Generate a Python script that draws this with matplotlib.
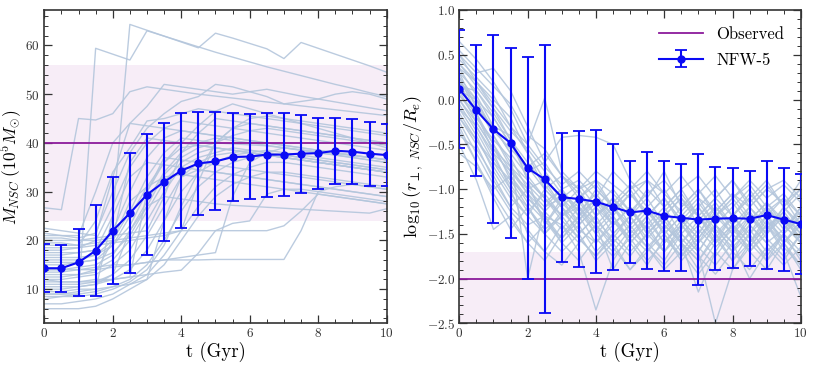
import numpy as np
import matplotlib
matplotlib.use('Agg')
import matplotlib.pyplot as plt
from matplotlib.ticker import FormatStrFormatter

plt.rcParams['font.family'] = 'serif'
plt.rcParams['font.serif'] = ['cmr10', 'DejaVu Serif']
plt.rcParams['mathtext.fontset'] = 'cm'
plt.rcParams['axes.formatter.use_mathtext'] = True
plt.rcParams['axes.unicode_minus'] = True

# time grid (Gyr)
t = [0, 0.5, 1, 1.5, 2, 2.5, 3, 3.5, 4, 4.5, 5, 5.5, 6, 6.5, 7, 7.5, 8, 8.5, 9, 9.5, 10]

# NFW-5 mean and spread, NSC mass (1e5 Msun)
mass_mean = [14.3, 14.3, 15.5, 17.9, 22.0, 25.6, 29.4, 32.0, 34.3, 35.8, 36.2,
             37.1, 37.2, 37.6, 37.6, 37.8, 37.9, 38.4, 38.2, 37.8, 37.5]
mass_std = [4.9, 4.8, 6.85, 9.35, 11.0, 12.35, 12.4, 12.1, 11.8, 10.6, 10.05,
            9.05, 8.75, 8.6, 8.45, 8.0, 7.25, 6.75, 6.7, 6.55, 6.35]

# NFW-5 mean and spread, log10 projected distance
dist_mean = [0.12, -0.12, -0.33, -0.485, -0.765, -0.89, -1.09, -1.11, -1.14, -1.20, -1.26,
             -1.24, -1.30, -1.32, -1.34, -1.33, -1.325, -1.33, -1.29, -1.34, -1.39]
dist_std = [0.66, 0.73, 1.05, 1.06, 1.24, 1.5, 0.72, 0.76, 0.80, 0.70, 0.57,
            0.655, 0.62, 0.60, 0.73, 0.575, 0.56, 0.53, 0.605, 0.58, 0.56]

# observed values
obs_mass = 40
obs_mass_err = 16
obs_dist = -2.0
obs_dist_top = -1.7

# individual runs, NSC mass
mass_runs = [
    [9.0, 9.0, 9.5, 10.0, 25.0, 64.3, 63.1, 61.9, 60.7, 59.5, 62.5, 61.5, 60.4, 59.3, 57.3, 60.6, 59.4, 58.2, 57.0, 55.8, 54.5],
    [8.0, 8.5, 9.0, 59.4, 58.2, 57.0, 63.0, 61.9, 60.8, 59.7, 58.6, 57.6, 56.6, 55.6, 54.7, 53.8, 52.9, 52.0, 51.2, 50.3, 49.5],
    [26.7, 26.3, 45.0, 44.7, 46.0, 50.5, 51.5, 51.0, 50.5, 50.0, 49.6, 49.2, 48.8, 48.4, 48.0, 47.6, 47.2, 46.8, 46.4, 46.0, 45.6],
    [22.5, 22.0, 21.5, 21.0, 33.0, 44.0, 47.5, 52.0, 51.5, 51.0, 50.5, 50.0, 50.5, 51.0, 50.3, 49.6, 49.0, 48.4, 47.8, 47.2, 46.6],
    [21.0, 21.0, 20.5, 21.5, 30.0, 38.0, 43.0, 46.0, 48.5, 49.5, 52.0, 51.5, 50.5, 49.5, 48.0, 48.5, 49.0, 50.0, 50.5, 50.0, 49.0],
    [19.5, 19.5, 19.0, 24.0, 34.0, 39.0, 44.5, 45.0, 46.0, 47.0, 46.5, 46.0, 45.5, 45.0, 44.5, 44.0, 43.5, 43.0, 42.5, 42.0, 41.5],
    [18.0, 18.0, 18.5, 20.0, 27.0, 35.0, 40.0, 43.0, 44.5, 44.0, 43.5, 43.0, 42.5, 42.0, 41.5, 41.0, 40.5, 40.0, 39.5, 39.0, 38.5],
    [17.0, 17.0, 17.5, 18.0, 22.0, 30.0, 37.0, 41.0, 42.5, 42.0, 41.5, 41.0, 40.5, 40.0, 39.5, 39.0, 38.5, 38.0, 37.5, 37.0, 36.5],
    [16.0, 16.0, 16.0, 17.0, 20.0, 26.0, 33.0, 38.0, 41.0, 40.5, 40.0, 39.8, 39.6, 39.4, 39.0, 38.6, 38.2, 37.8, 37.4, 37.0, 36.6],
    [15.0, 15.0, 15.5, 16.0, 19.0, 25.0, 31.0, 36.0, 39.0, 39.5, 39.0, 38.5, 38.0, 37.5, 37.0, 36.5, 36.0, 35.5, 35.0, 34.5, 34.0],
    [14.0, 14.0, 14.5, 15.0, 17.0, 22.0, 28.0, 34.0, 38.0, 40.0, 41.0, 40.5, 40.0, 39.5, 39.0, 38.5, 38.0, 37.5, 37.0, 36.5, 36.0],
    [13.0, 13.0, 13.0, 14.0, 16.0, 20.0, 26.0, 32.0, 36.0, 38.0, 39.0, 38.5, 38.0, 37.5, 37.0, 36.5, 36.0, 35.5, 35.0, 34.5, 34.0],
    [12.0, 12.0, 12.5, 13.0, 15.0, 18.0, 24.0, 30.0, 35.0, 37.0, 38.0, 39.0, 38.5, 38.0, 37.5, 37.0, 36.5, 36.0, 35.5, 35.0, 34.5],
    [11.0, 11.0, 11.0, 11.5, 13.0, 16.0, 21.0, 27.0, 33.0, 36.0, 37.5, 38.0, 38.5, 38.0, 37.5, 37.0, 36.5, 36.0, 35.5, 35.0, 34.5],
    [10.0, 10.0, 10.5, 11.0, 12.0, 14.0, 18.0, 24.0, 30.0, 34.0, 36.0, 37.5, 38.0, 38.5, 38.0, 37.5, 37.0, 36.5, 36.0, 35.5, 35.0],
    [9.0, 9.0, 9.0, 9.5, 10.5, 12.0, 15.0, 20.0, 26.0, 31.0, 34.0, 36.0, 37.0, 37.5, 37.0, 36.5, 36.0, 35.5, 35.0, 34.5, 34.0],
    [7.0, 7.0, 7.5, 8.0, 9.0, 11.0, 13.0, 17.0, 22.0, 27.0, 31.0, 33.5, 35.0, 36.0, 36.0, 35.5, 35.0, 34.5, 34.0, 33.5, 33.0],
    [6.0, 6.0, 6.0, 6.5, 8.0, 10.0, 12.0, 15.0, 20.0, 25.0, 29.0, 31.5, 33.0, 34.0, 34.0, 33.5, 33.0, 32.5, 32.0, 31.5, 31.0],
    [20.0, 20.0, 20.0, 20.5, 21.0, 21.5, 22.0, 29.0, 38.0, 42.0, 45.0, 44.5, 44.0, 43.5, 43.0, 42.5, 42.0, 41.5, 41.0, 40.5, 40.0],
    [18.5, 18.5, 18.5, 19.0, 19.5, 20.0, 20.5, 21.0, 22.0, 32.0, 40.0, 43.0, 45.0, 45.5, 45.0, 44.5, 44.0, 43.5, 43.0, 42.5, 42.0],
    [13.5, 13.5, 14.0, 14.0, 14.5, 15.0, 15.5, 16.0, 16.5, 17.0, 17.5, 29.0, 36.0, 38.0, 39.0, 38.5, 38.0, 37.5, 37.0, 36.5, 36.0],
    [14.0, 14.0, 14.0, 14.5, 15.0, 15.0, 15.5, 16.0, 16.0, 16.0, 16.1, 16.1, 16.1, 16.1, 16.1, 22.0, 30.0, 31.0, 31.5, 31.0, 30.5],
    [19.0, 19.0, 19.0, 19.5, 20.0, 20.5, 21.0, 21.5, 22.0, 22.0, 22.0, 22.0, 22.0, 22.0, 23.0, 26.0, 29.5, 29.0, 28.5, 28.0, 27.5],
    [11.5, 11.5, 11.5, 12.0, 12.0, 12.5, 13.0, 13.5, 13.9, 17.4, 22.0, 23.5, 24.0, 29.5, 30.5, 30.5, 30.0, 29.5, 29.0, 28.5, 28.0],
    [21.5, 21.0, 21.0, 30.0, 40.0, 44.0, 43.5, 43.0, 42.5, 42.0, 41.5, 41.0, 40.5, 40.0, 39.5, 39.0, 38.5, 38.0, 37.5, 37.0, 36.5],
    [17.5, 17.5, 17.5, 18.0, 25.0, 33.0, 36.0, 35.5, 35.0, 34.5, 34.0, 33.5, 33.0, 32.5, 32.0, 31.5, 31.0, 30.5, 30.0, 29.5, 29.0],
    [12.5, 12.5, 13.0, 13.5, 20.0, 28.0, 31.0, 33.0, 33.5, 33.0, 32.5, 32.0, 31.5, 31.0, 30.5, 30.0, 29.5, 29.0, 28.5, 28.0, 27.5],
    [10.5, 10.5, 10.5, 11.0, 13.0, 22.0, 27.0, 29.0, 28.5, 28.0, 27.5, 27.2, 27.0, 26.8, 26.6, 26.4, 26.2, 26.0, 25.8, 25.6, 26.5],
    [16.5, 16.5, 16.5, 17.0, 19.0, 23.0, 30.0, 36.0, 40.0, 43.5, 46.5, 48.0, 47.0, 46.0, 45.0, 44.0, 43.0, 42.0, 41.0, 40.0, 39.0],
    [8.5, 8.5, 8.5, 9.0, 10.0, 11.5, 14.0, 19.0, 27.0, 34.0, 40.0, 43.0, 44.0, 43.5, 43.0, 42.5, 42.0, 41.5, 41.0, 40.5, 40.0],
    [15.5, 15.5, 15.5, 16.0, 17.5, 21.0, 27.0, 33.5, 37.0, 39.0, 40.0, 41.5, 42.5, 43.0, 42.5, 42.0, 41.5, 41.0, 40.5, 40.0, 39.5],
    [20.5, 20.5, 20.0, 20.0, 20.5, 36.0, 41.0, 40.5, 40.0, 39.5, 39.0, 38.5, 38.0, 37.5, 37.0, 36.5, 36.0, 35.5, 35.0, 34.5, 34.0],
    [12.0, 11.5, 11.5, 11.5, 12.0, 12.5, 30.0, 37.0, 36.5, 36.0, 35.5, 35.0, 34.5, 34.0, 33.5, 33.0, 32.5, 32.0, 31.5, 31.0, 30.5],
    [9.5, 9.5, 10.0, 10.0, 10.5, 11.0, 12.0, 24.0, 33.0, 34.5, 34.0, 33.5, 33.0, 32.5, 32.0, 31.5, 31.0, 30.5, 30.0, 29.5, 29.0],
]

# individual runs, log10 projected distance
dist_runs = [
    [0.65, 0.45, 0.2, -0.1, -0.5, 0.02, -0.8, -1.0, -0.9, -1.2, -1.0, -1.3, -1.1, -1.4, -1.2, -1.0, -1.3, -1.1, -0.9, -1.2, -1.0],
    [0.5, 0.3, 0.35, 0.1, -0.3, -0.7, -0.42, -0.4, -0.42, -0.5, -0.9, -1.1, -0.8, -1.2, -1.0, -1.3, -1.1, -0.95, -1.2, -1.05, -1.3],
    [0.4, 0.2, 0.0, -0.2, -0.6, -1.0, -1.2, -1.5, -1.3, -1.6, -1.4, -1.2, -1.5, -1.3, -1.7, -1.4, -1.6, -1.3, -1.5, -1.2, -1.4],
    [0.3, -0.1, -0.3, -0.6, -2.0, -1.2, -1.0, -1.3, -1.1, -1.4, -1.2, -1.5, -1.3, -1.1, -1.4, -1.6, -1.3, -1.5, -1.2, -1.4, -1.6],
    [0.2, -0.2, -0.5, -0.9, -1.1, -1.3, -1.4, -1.7, -2.35, -1.8, -1.5, -1.7, -1.4, -1.6, -1.8, -1.5, -1.7, -1.4, -1.6, -1.8, -1.5],
    [0.1, 0.0, -0.4, -0.7, -0.9, -1.1, -1.3, -1.2, -1.5, -1.3, -1.6, -1.4, -1.2, -1.5, -1.7, -2.5, -1.9, -1.6, -1.8, -1.5, -1.7],
    [0.0, -0.3, -0.6, -0.8, -1.0, -1.2, -1.1, -1.4, -1.2, -1.5, -1.3, -1.1, -1.4, -1.6, -2.15, -1.7, -1.4, -1.6, -1.3, -1.5, -1.2],
    [-0.1, -0.4, -0.8, -1.1, -1.3, -1.0, -1.2, -1.5, -1.3, -1.1, -1.4, -1.2, -1.5, -1.3, -1.1, -1.4, -1.2, -1.0, -1.3, -1.1, -1.4],
    [-0.2, -0.5, -0.9, -1.2, -1.4, -1.3, -1.6, -1.4, -1.7, -1.5, -1.3, -1.6, -1.8, -1.5, -1.7, -1.4, -1.6, -2.0, -1.7, -1.5, -1.8],
    [0.25, -0.15, -0.6, -1.0, -1.2, -1.5, -1.3, -1.1, -1.4, -1.6, -1.4, -1.2, -1.0, -1.3, -1.5, -1.2, -1.4, -1.6, -1.4, -1.7, -2.2],
    [0.15, 0.1, -0.2, -0.5, -0.8, -0.7, -1.0, -0.9, -1.1, -0.8, -1.0, -0.9, -1.2, -1.0, -0.85, -1.1, -0.9, -1.15, -0.95, -1.2, -0.9],
    [0.35, 0.05, -0.3, -0.4, -0.9, -1.4, -1.1, -1.3, -1.0, -1.2, -1.5, -1.3, -1.6, -1.4, -1.2, -1.5, -1.8, -1.5, -1.3, -1.6, -1.4],
    [-0.3, -0.7, -1.1, -1.45, -1.2, -1.5, -1.7, -1.5, -1.8, -1.6, -1.9, -1.7, -1.5, -1.8, -1.6, -1.4, -1.7, -1.5, -1.8, -1.6, -1.9],
    [-0.5, -0.9, -1.45, -1.3, -1.6, -1.8, -1.5, -1.3, -1.6, -1.4, -1.2, -1.5, -1.3, -1.6, -1.9, -1.6, -1.4, -1.7, -1.5, -1.3, -1.6],
    [0.05, -0.2, -0.45, -0.65, -1.0, -0.9, -1.2, -1.0, -1.3, -1.1, -1.3, -1.0, -1.2, -1.0, -1.3, -1.1, -0.9, -1.2, -1.0, -0.9, -1.1],
    [0.45, 0.25, 0.05, -0.3, -0.6, -0.9, -1.1, -0.95, -1.2, -1.4, -1.2, -1.5, -1.7, -1.4, -1.6, -1.3, -1.5, -1.2, -1.4, -1.3, -1.5],
    [-0.05, -0.35, -0.7, -1.0, -1.5, -1.7, -1.4, -1.6, -1.4, -1.9, -1.6, -1.4, -1.7, -1.5, -1.3, -1.6, -1.4, -1.7, -1.9, -1.6, -1.4],
    [0.2, 0.0, -0.35, -0.55, -0.75, -1.0, -0.85, -1.1, -0.9, -1.05, -1.25, -1.05, -0.9, -1.15, -1.3, -1.1, -1.3, -1.05, -1.25, -1.1, -1.3],
    [-0.15, -0.45, -0.75, -1.05, -1.3, -1.5, -1.25, -1.45, -1.6, -1.35, -1.55, -1.8, -1.6, -1.35, -1.55, -1.75, -1.5, -1.3, -1.55, -1.75, -1.5],
    [0.1, -0.25, -0.55, -0.85, -1.15, -1.35, -1.55, -1.3, -1.1, -1.35, -1.6, -1.85, -1.55, -1.75, -1.5, -1.25, -1.5, -1.7, -1.45, -1.2, -1.45],
    [0.3, 0.1, -0.15, -0.45, -0.7, -0.95, -1.2, -1.4, -1.2, -1.0, -1.25, -1.45, -1.25, -1.05, -1.3, -1.55, -1.3, -1.1, -1.35, -1.6, -1.35],
    [-0.4, -0.55, -0.85, -1.2, -1.0, -1.25, -1.45, -1.2, -1.4, -1.65, -1.9, -1.65, -1.45, -1.7, -1.95, -1.7, -1.9, -1.65, -1.4, -1.65, -1.85],
    [0.55, 0.35, 0.15, -0.05, -0.4, -0.55, -0.85, -1.0, -0.8, -0.95, -1.1, -0.9, -1.05, -0.85, -1.1, -1.25, -1.05, -1.2, -1.0, -1.15, -1.0],
    [0.0, -0.25, -0.55, -0.75, -0.95, -1.15, -1.0, -1.25, -1.5, -1.7, -1.45, -1.25, -1.5, -1.75, -1.55, -1.3, -1.15, -1.4, -1.2, -1.45, -1.25],
    [-0.25, -0.6, -0.95, -1.25, -1.45, -1.7, -1.85, -1.6, -1.4, -1.2, -1.45, -1.65, -1.9, -1.7, -1.45, -1.65, -1.45, -1.25, -1.5, -1.3, -1.55],
    [0.4, 0.15, -0.1, -0.35, -0.55, -0.8, -1.05, -1.25, -1.05, -1.3, -1.55, -1.3, -1.1, -1.35, -1.15, -1.4, -1.6, -1.35, -1.15, -1.4, -1.6],
    [0.1, -0.1, -0.3, -0.6, -0.85, -1.1, -1.35, -1.55, -1.75, -1.5, -1.7, -1.5, -1.3, -1.55, -1.75, -1.95, -1.7, -1.9, -1.65, -1.85, -1.65],
    [-0.35, -0.7, -1.05, -1.35, -1.6, -1.4, -1.15, -1.35, -1.1, -1.3, -1.05, -1.25, -1.45, -1.2, -1.0, -1.25, -1.05, -1.3, -1.5, -1.25, -1.05],
    [0.25, 0.0, -0.2, -0.5, -0.75, -0.6, -0.85, -1.05, -1.3, -1.15, -0.95, -1.2, -1.4, -1.6, -1.35, -1.15, -1.4, -1.2, -1.45, -1.25, -1.5],
    [-0.1, -0.3, -0.65, -0.95, -1.25, -1.05, -1.3, -1.1, -0.95, -1.2, -1.4, -1.65, -1.85, -1.6, -1.8, -1.55, -1.8, -1.6, -1.35, -1.55, -1.75],
    [0.2, -0.05, -0.4, -0.75, -1.05, -1.35, -1.6, -1.8, -1.55, -1.75, -1.55, -1.35, -1.6, -1.4, -1.65, -1.85, -1.6, -1.4, -1.6, -1.45, -1.2],
    [0.35, 0.2, -0.05, -0.3, -0.5, -0.75, -0.95, -0.8, -1.0, -1.2, -1.0, -0.8, -1.05, -1.25, -1.05, -0.85, -1.1, -0.9, -1.1, -0.95, -1.15],
    [-0.6, -0.75, -1.0, -0.85, -1.1, -1.3, -1.55, -1.35, -1.15, -1.4, -1.2, -1.45, -1.7, -1.45, -1.2, -1.45, -1.65, -1.45, -1.7, -1.5, -1.3],
    [0.05, -0.15, -0.5, -0.8, -1.05, -1.25, -1.05, -1.2, -1.45, -1.25, -1.05, -1.3, -1.1, -1.35, -1.55, -1.3, -1.1, -1.35, -1.15, -1.35, -1.55],
    [0.5, 0.2, -0.1, -0.45, -0.9, -1.1, -1.3, -1.15, -1.35, -1.55, -1.75, -1.5, -1.3, -1.1, -1.3, -1.5, -1.3, -1.55, -1.75, -1.5, -1.3],
    [-0.2, -0.45, -0.7, -0.9, -1.2, -1.45, -1.3, -1.55, -1.75, -1.55, -1.3, -1.55, -1.35, -1.6, -1.4, -1.2, -1.45, -1.65, -1.4, -1.6, -1.85],
]

run_color = '#b4c6dc'
obs_color = '#8b1a9b'
band_color = '#f7edf7'
mean_color = '#0a0af5'

fig = plt.figure(figsize=(8.14, 3.67), dpi=100)
ax1 = fig.add_axes([0.0544, 0.119, 0.4206, 0.853])
ax2 = fig.add_axes([0.5643, 0.119, 0.4195, 0.853])


def style_axis(ax, ymajor, yminor):
    ax.set_xlim(0, 10)
    ax.set_xticks(np.arange(0, 10.1, 2))
    ax.set_xticks(np.arange(0, 10.1, 0.5), minor=True)
    ax.set_yticks(ymajor)
    ax.set_yticks(yminor, minor=True)
    ax.tick_params(which='both', direction='in', top=True, right=True, labelsize=9.5,
                   colors='#333333', pad=3)
    ax.tick_params(which='major', length=6, width=0.9)
    ax.tick_params(which='minor', length=3, width=0.7)
    for s in ax.spines.values():
        s.set_linewidth(1.2)
        s.set_color('#333333')
    ax.set_xlabel('t (Gyr)', fontsize=13.5, labelpad=1)


# left panel: NSC mass
ax1.axhspan(obs_mass - obs_mass_err, obs_mass + obs_mass_err, color=band_color, lw=0, zorder=0)
for run in mass_runs:
    ax1.plot(t, run, color=run_color, lw=1.0, alpha=0.9, zorder=1)
ax1.axhline(obs_mass, color=obs_color, lw=1.3, zorder=2)
ax1.errorbar(t, mass_mean, yerr=mass_std, color=mean_color, marker='o', ms=5,
             lw=1.5, elinewidth=1.5, capsize=4, capthick=1.3, zorder=3)
ax1.set_ylim(3, 67.2)
style_axis(ax1, np.arange(10, 61, 10), np.arange(4, 67, 2))
ax1.set_ylabel(r'$M_{NSC}\ (10^5 M_{\odot})$', fontsize=12.5)
ax1.yaxis.set_label_coords(-0.058, 0.5)

# right panel: projected distance
ax2.axhspan(-3.0, obs_dist_top, color=band_color, lw=0, zorder=0)
for run in dist_runs:
    ax2.plot(t, run, color=run_color, lw=1.0, alpha=0.9, zorder=1)
ax2.axhline(obs_dist, color=obs_color, lw=1.3, zorder=2, label='Observed')
ax2.errorbar(t, dist_mean, yerr=dist_std, color=mean_color, marker='o', ms=5,
             lw=1.5, elinewidth=1.5, capsize=4, capthick=1.3, zorder=3, label='NFW-5')
ax2.set_ylim(-2.5, 1.0)
style_axis(ax2, np.arange(-2.5, 1.01, 0.5), np.arange(-2.5, 1.01, 0.1))
ax2.yaxis.set_major_formatter(FormatStrFormatter('$%.1f$'))
ax2.set_ylabel(r'$\log_{10}(r_{\perp,\ NSC}/R_e)$', fontsize=13)
ax2.yaxis.set_label_coords(-0.1, 0.5)
ax2.legend(loc='upper right', frameon=False, fontsize=12, handlelength=2.6,
           borderaxespad=0.6, labelspacing=0.6)

fig.savefig('out.png', dpi=100)
